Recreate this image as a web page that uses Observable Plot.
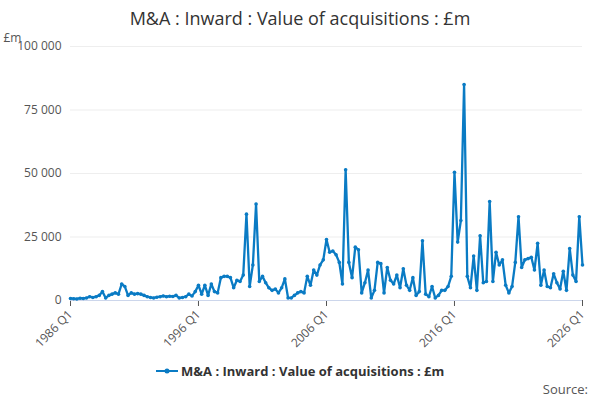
<!DOCTYPE html>
<html><head>
<script src="https://cdn.jsdelivr.net/npm/d3@7"></script>
<script src="https://cdn.jsdelivr.net/npm/@observablehq/plot@0.6"></script>
<style>body{margin:0;font-family:"Open Sans",sans-serif;background:#fff}
h1{font-size:18px;font-weight:normal;text-align:center;margin:6px 0 0;color:#333;line-height:24px}
#leg{text-align:center;font-size:13px;font-weight:bold;color:#333;margin-top:-4px}
#src{position:absolute;right:12px;top:380px;font-size:13px;color:#555}</style>
</head><body>
<h1>M&amp;A : Inward : Value of acquisitions : £m</h1>
<div id="chart"></div>
<div id="leg"><svg width="22" height="10"><line x1="0" y1="5" x2="22" y2="5" stroke="#0a7bc4" stroke-width="2"/><circle cx="11" cy="5" r="2.5" fill="#0a7bc4"/></svg> M&amp;A : Inward : Value of acquisitions : £m</div>
<div id="src">Source:</div>
<script>
const startYear = 1986;
const values = [
0.8,0.7,0.6,0.9, 0.8,1,1.5,1.2, 1.5,2,3.5,1, 2,2.5,3,2.5, 6.5,5.5,2,3, 2.5,2.7,2.5,2, 1.5,1.2,1,1.3, 1.5,1.8,1.5,1.7, 1.6,2,1,1.2, 1.5,2.5,1.8,3.5,
6,2.5,6,2, 6.5,3.5,3,9, 9.5,9.5,9,5, 8,7.5,10,34, 5.5,14,38,7.5, 9.5,7,5,4, 4.5,3,5,8.5, 1,1,2,3, 3.5,3,9.5,6, 12,10,14,16,
24,19,19.5,18, 15,6.5,51.5,15, 9,21,20,3, 7,12,1,4, 15,14.5,3,13, 8,6.5,10,5, 12.5,6,4,9, 2,3.5,23.5,2.5, 1.5,5.5,1,2, 4,4,5.5,9.5,
50.5,23,31.5,85, 9.5,5,17.5,4, 25.5,7,7.5,39, 7.5,19,14,16, 6,3,5.5,15, 33,13,16,16.5, 17,12,22.5,6, 12,5.5,5,10.5, 7,4.5,11.5,4, 20.5,10,7.5,33,
14];
const data = values.map((v,i)=>({date:new Date(startYear+Math.floor(i/4),(i%4)*3,1), value:v*1000}));
const ticks = [1986,1996,2006,2016,2026].map(y=>new Date(y,0,1));
const fmt = d3.format(",");
const chart = Plot.plot({
  width:600, height:336, marginLeft:70, marginRight:18, marginTop:16, marginBottom:66,
  style:{fontFamily:"Open Sans",fontSize:"12px",color:"#555"},
  x:{type:"time", domain:[new Date(1986,0,1),new Date(2026,0,1)], ticks, tickFormat:d=>d.getFullYear()+" Q1", tickRotate:-45, label:null, tickSize:6},
  y:{domain:[0,100000], ticks:[0,25000,50000,75000,100000], tickFormat:d=>fmt(d).replace(/,/g," "), grid:true, label:"£m", labelAnchor:"top", labelArrow:false, tickSize:0},
  marks:[
    Plot.ruleY([0],{stroke:"#ccd6eb"}),
    Plot.line(data,{x:"date",y:"value",stroke:"#0a7bc4",strokeWidth:2.3}),
    Plot.dot(data,{x:"date",y:"value",fill:"#0a7bc4",r:1.8})
  ]
});
document.getElementById("chart").append(chart);
</script>
</body></html>
